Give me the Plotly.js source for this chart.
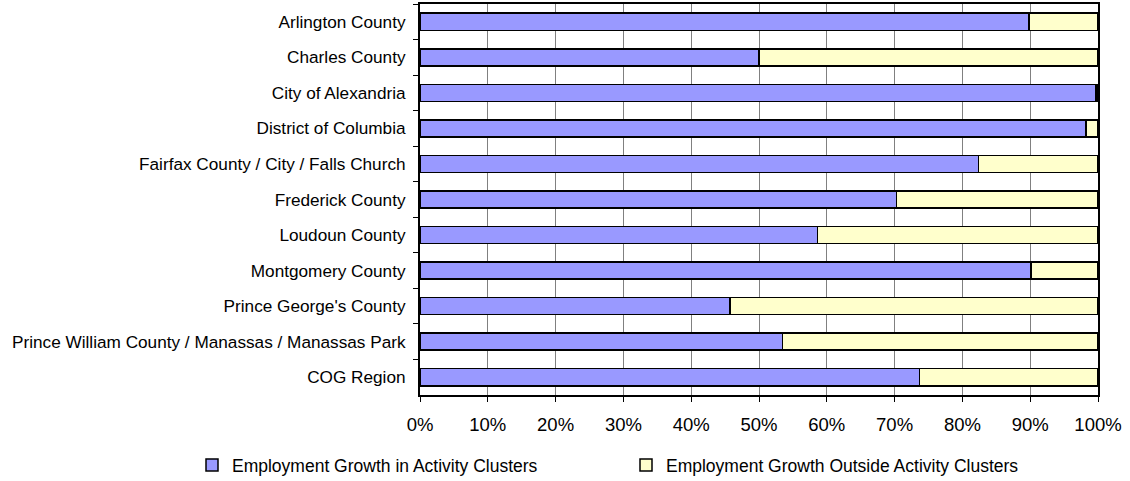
<!DOCTYPE html>
<html><head><meta charset="utf-8">
<script src="https://cdn.plot.ly/plotly-3.0.1.min.js"></script>
<style>html,body{margin:0;padding:0;background:#fff;}#chart{width:1130px;height:481px;}</style>
</head><body><div id="chart"></div>
<script>
const categories = ["Arlington County","Charles County","City of Alexandria","District of Columbia","Fairfax County / City / Falls Church","Frederick County","Loudoun County","Montgomery County","Prince George's County","Prince William County / Manassas / Manassas Park","COG Region"];
const inClusters = [89.8, 50.0, 99.7, 98.2, 82.4, 70.3, 58.6, 90.1, 45.7, 53.5, 73.7];
const outsideClusters = [10.2, 50.0, 0.3, 1.8, 17.6, 29.7, 41.4, 9.9, 54.3, 46.5, 26.3];
const xTickVals = [0,10,20,30,40,50,60,70,80,90,100];
const xTickText = ["0%","10%","20%","30%","40%","50%","60%","70%","80%","90%","100%"];
const seriesNames = ["Employment Growth in Activity Clusters","Employment Growth Outside Activity Clusters"];

const fam = "Liberation Sans, Arial, sans-serif";
const data = [
  {type:"bar", orientation:"h", y:categories, x:inClusters, name:seriesNames[0],
   marker:{color:"#9999FF", line:{color:"#000", width:1.5}}},
  {type:"bar", orientation:"h", y:categories, x:outsideClusters, name:seriesNames[1],
   marker:{color:"#FFFFCC", line:{color:"#000", width:1.5}}}
];
const plotL = 420, plotR = 1098, plotT = 4, plotB = 395;
const layout = {
  width:1130, height:481,
  margin:{l:plotL, r:1130-plotR, t:plotT, b:481-plotB, autoexpand:false},
  paper_bgcolor:"#fff", plot_bgcolor:"#fff",
  font:{family:fam, size:17, color:"#000"},
  barmode:"stack", bargap:0.52,
  showlegend:true,
  legend:{orientation:"h", xref:"paper", yref:"paper", x:(192-plotL)/(plotR-plotL), xanchor:"left",
          y:-(447-plotB)/(plotB-plotT), yanchor:"top", entrywidth:389, entrywidthmode:"pixels",
          font:{family:fam, size:17.5, color:"#000"}, traceorder:"normal", bgcolor:"rgba(0,0,0,0)"},
  xaxis:{range:[0,100], tickvals:xTickVals, ticktext:xTickText, showgrid:true, gridcolor:"#808080", gridwidth:1,
         zeroline:false, showline:true, linecolor:"#000", linewidth:2, mirror:true,
         ticks:"outside", ticklen:5, tickcolor:"#000", tickwidth:1, tickfont:{size:18.5}, ticklabelstandoff:7,
         fixedrange:true, automargin:false},
  yaxis:{type:"category", categoryorder:"array", categoryarray:categories, autorange:"reversed",
         showgrid:false, zeroline:false, showline:true, linecolor:"#000", linewidth:2, mirror:true,
         ticks:"outside", tickson:"boundaries", ticklen:5, tickcolor:"#000", tickwidth:1,
         tickfont:{size:17.2}, ticklabelstandoff:9, fixedrange:true, automargin:false}
};
Plotly.newPlot("chart", data, layout, {displayModeBar:false, staticPlot:true});
</script></body></html>
